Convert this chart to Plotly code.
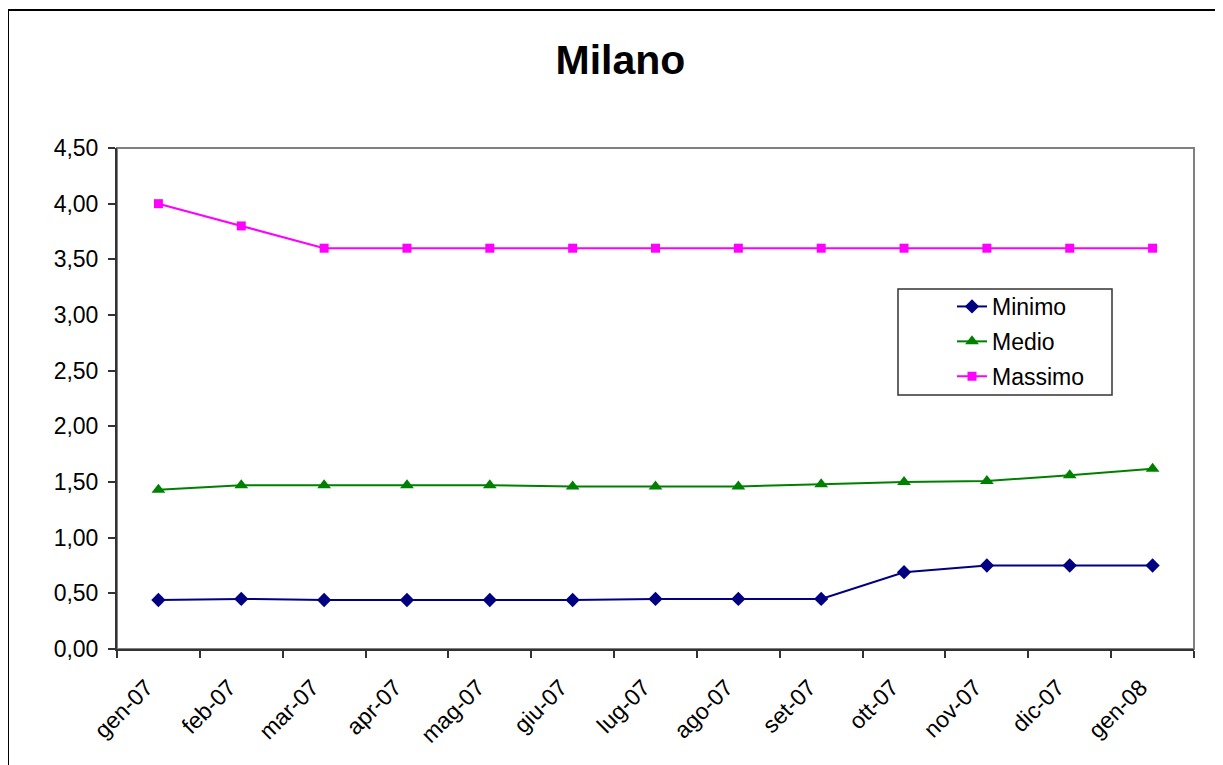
import plotly.graph_objects as go

mesi = ["gen-07", "feb-07", "mar-07", "apr-07", "mag-07", "giu-07", "lug-07",
        "ago-07", "set-07", "ott-07", "nov-07", "dic-07", "gen-08"]
minimo = [0.44, 0.45, 0.44, 0.44, 0.44, 0.44, 0.45, 0.45, 0.45, 0.69, 0.75, 0.75, 0.75]
medio = [1.43, 1.47, 1.47, 1.47, 1.47, 1.46, 1.46, 1.46, 1.48, 1.50, 1.51, 1.56, 1.62]
massimo = [4.00, 3.80, 3.60, 3.60, 3.60, 3.60, 3.60, 3.60, 3.60, 3.60, 3.60, 3.60, 3.60]

# page body has an 8px margin; work in figure coordinates (screen - 8)
OFF = 8
W, H = 1223 - OFF, 765 - OFF
L, R, T, B = 117 - OFF, 1194 - OFF, 148 - OFF, 649 - OFF
pw, ph = R - L, B - T


def px(sx):
    return (sx - OFF - L) / pw


def py(sy):
    return (B - (sy - OFF)) / ph


FONT = "Liberation Sans, Arial, sans-serif"

fig = go.Figure()
fig.add_trace(go.Scatter(x=mesi, y=minimo, name="Minimo", mode="lines+markers",
                         line=dict(color="#000080", width=2),
                         marker=dict(symbol="diamond", size=11, color="#000080"),
                         legendgroup="a"))
fig.add_trace(go.Scatter(x=mesi, y=medio, name="Medio", mode="lines+markers",
                         line=dict(color="#008000", width=2),
                         marker=dict(symbol="triangle-up", size=12, color="#008000"),
                         legendgroup="b"))
fig.add_trace(go.Scatter(x=mesi, y=massimo, name="Massimo", mode="lines+markers",
                         line=dict(color="#FF00FF", width=2),
                         marker=dict(symbol="square", size=9, color="#FF00FF"),
                         legendgroup="c"))

shapes = [
    # outer chart border (cropped at right/bottom)
    dict(type="rect", xref="paper", yref="paper",
         x0=px(8), x1=px(1260), y0=py(800), y1=py(10),
         line=dict(color="black", width=2), fillcolor="rgba(0,0,0,0)", layer="below"),
    # plot area border
    dict(type="rect", xref="paper", yref="paper", x0=0, x1=1, y0=0, y1=1,
         line=dict(color="#808080", width=2), fillcolor="rgba(0,0,0,0)", layer="below"),
    # legend frame
    dict(type="rect", xref="paper", yref="paper",
         x0=px(898), x1=px(1112), y0=py(395), y1=py(289),
         line=dict(color="#333333", width=1.5), fillcolor="white", layer="below"),
]

fig.update_layout(
    width=W, height=H,
    margin=dict(l=L, r=W - R, t=T, b=H - B),
    paper_bgcolor="white", plot_bgcolor="white",
    separators=",.",
    font=dict(family=FONT, size=23, color="black"),
    title=dict(text="<b>Milano</b>", x=(620.5 - OFF) / W, xref="container", xanchor="center",
               y=1 - (60 - OFF) / H, yref="container", yanchor="middle",
               font=dict(family=FONT, size=41, color="black")),
    showlegend=True,
    legend=dict(x=px(952), y=py(285), xanchor="left", yanchor="top",
                bgcolor="rgba(0,0,0,0)", borderwidth=0,
                tracegroupgap=2, font=dict(family=FONT, size=23),
                itemsizing="trace"),
    shapes=shapes,
    xaxis=dict(type="category", range=[-0.5, 12.5], tickson="boundaries",
               ticks="outside", ticklen=7, tickcolor="#333333", tickwidth=1.5,
               showline=True, linecolor="#333333", linewidth=2,
               showgrid=False, zeroline=False, tickangle=-45,
               ticklabelshift=-12, ticklabelstandoff=14,
               tickfont=dict(family=FONT, size=23)),
    yaxis=dict(range=[0, 4.5], dtick=0.5, tickformat=".2f",
               ticks="outside", ticklen=7, tickcolor="#333333", tickwidth=1.5,
               showline=True, linecolor="#333333", linewidth=2,
               showgrid=False, zeroline=False, ticklabelstandoff=5,
               tickfont=dict(family=FONT, size=23)),
)

fig.write_html("out.html")
